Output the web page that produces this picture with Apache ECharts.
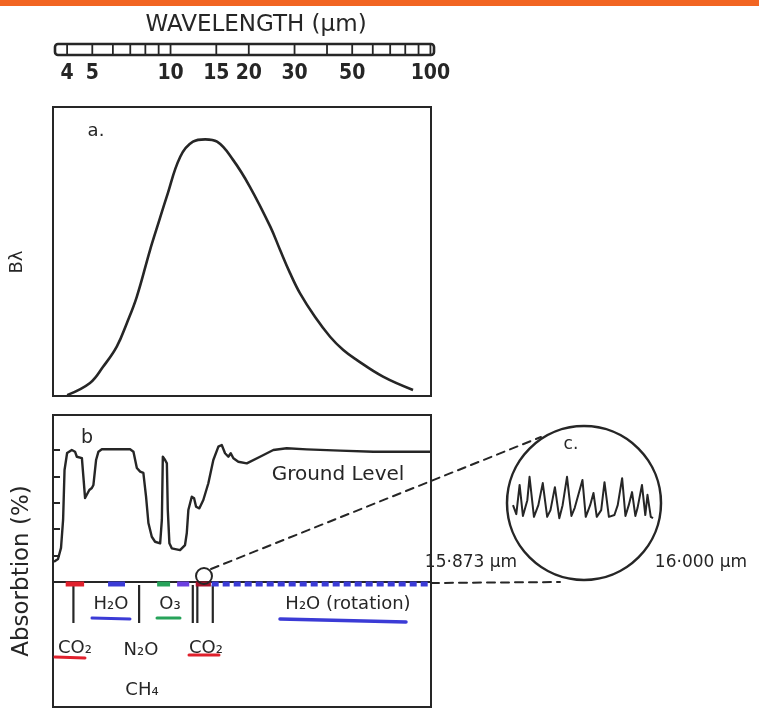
<!DOCTYPE html>
<html><head><meta charset="utf-8">
<script src="https://cdn.jsdelivr.net/npm/echarts@6/dist/echarts.min.js"></script>
<style>html,body{margin:0;padding:0;background:#fff}#c{width:759px;height:710px}</style>
</head><body><div id="c"></div>
<script>
// ---- data ----
const scaleTicks = [4,5,6,7,8,9,10,15,20,30,40,50,60,70,80,90,100];
const scaleLabels = [4,5,10,15,20,30,50,100];

const planckLambda = [4.0,4.9,5.5,6.21,6.79,7.42,8.34,8.98,9.67,10.9,12.2,13.6,15.1,17.4,20.2,24.2,26.4,28.8,31.5,36.0,41.1,46.2,52.0,65.7,85.7];
const planckB      = [0.3,4.5,10.1,17.1,25.2,34.4,50.5,59.8,69.0,82.8,88.0,88.8,88.0,81.7,72.4,58.6,50.5,42.6,35.5,27.3,20.5,15.9,12.5,6.7,2.1];

const absLambda = [3.56,3.69,3.79,3.86,3.91,4.00,4.17,4.29,4.36,4.56,4.62,4.69,4.76,4.87,4.98,5.05,5.17,5.28,5.44,6.99,7.20,7.42,7.64,7.86,8.05,8.22,8.47,8.72,9.12,9.26,9.34,9.53,9.68,9.76,9.90,10.11,10.88,11.37,11.55,11.71,12.07,12.32,12.54,12.91,13.37,13.98,14.61,15.28,15.74,16.21,16.69,17.05,17.45,18.23,19.65,22.10,24.86,27.99,33.42,44.9,60.3,98.1,100.5];
const absPct    = [15.4,17.4,25.8,47.0,84.8,97.7,100,98.7,94.9,93.9,79.8,63.6,62.1,69.7,71.2,73.5,92.4,98.7,100.5,100.5,98.7,86.4,83.6,82.6,64.6,44.7,34.3,30.5,29.3,47.0,94.9,92.4,89.9,54.5,29.3,25.5,24.2,28.0,37.1,54.5,64.6,63.4,57.0,55.8,62.1,74.8,92.4,102.5,103.8,97.5,94.9,97.5,93.7,91.1,89.9,94.9,100,101.3,100.5,99.5,98.7,98.7,98.7];
const absTicks  = [20,40,60,80,100];

const insetLambda = [15.873,15.876,15.879,15.882,15.886,15.888,15.892,15.896,15.900,15.904,15.907,15.911,15.915,15.918,15.922,15.926,15.929,15.936,15.939,15.943,15.946,15.949,15.953,15.956,15.960,15.965,15.968,15.972,15.975,15.978,15.981,15.984,15.986,15.990,15.993,15.995,15.998,16.000];
const insetAbs    = [33,13,78,9,44,96,7,33,82,7,22,73,4,33,96,9,27,89,7,33,60,7,22,84,7,11,33,93,9,33,62,9,27,78,11,56,7,4];

const bandStart = [3.95,5.75,8.88,10.6,12.5,14.4];
const bandEnd   = [4.65,6.68,9.96,11.8,14.3,98];
const bracketLambda = [4.23,7.57,12.18,12.68,14.54];

// ---- styles ----
const INK = '#262626';
const FONT = "'DejaVu Sans', sans-serif";
const NARROW = "'Liberation Sans Narrow','DejaVu Sans Condensed',sans-serif";
const bandColors = ['#e0202c','#3b3bd6','#27a35a','#6b3fe0','#a5122a','#3b3bd6'];
const X0 = 3.53, X1 = 100.5;

const chart = echarts.init(document.getElementById('c'));

const gridBase = {left:53, width:378, containLabel:false};
const xLog = gi => ({type:'log', logBase:10, gridIndex:gi, min:X0, max:X1, show:false});
const hidY = (gi, min, max) => ({type:'value', gridIndex:gi, min, max, show:false});

function txt(text, x, y, size, extra) {
  return Object.assign({type:'text', x, y, z:100,
    style:{text, fontSize:size, fontFamily:FONT, fill:INK, align:'center', verticalAlign:'middle'}}, extra || {});
}
function ln(x1,y1,x2,y2,color,w,dash){
  return {type:'line', z:90, shape:{x1,y1,x2,y2}, style:{stroke:color, lineWidth:w, lineDash:dash||null, lineCap:'round'}};
}

const option = {
  backgroundColor:'#ffffff',
  animation:false,
  grid:[
    Object.assign({top:44, height:11, show:false}, gridBase),
    Object.assign({top:107, height:289, show:true, borderColor:INK, borderWidth:2}, gridBase),
    Object.assign({top:415, height:167, show:true, borderColor:INK, borderWidth:2}, gridBase),
    Object.assign({top:582, height:125, show:true, borderColor:INK, borderWidth:2}, gridBase),
    {left:513, top:475, width:140, height:45, show:false}
  ],
  xAxis:[xLog(0), xLog(1), xLog(2), xLog(3),
    {type:'value', gridIndex:4, min:15.873, max:16.0, show:false}],
  yAxis:[
    hidY(0,0,1),
    hidY(1,0,100),
    {type:'value', gridIndex:2, min:0, max:126.5,
      axisLine:{show:false}, axisLabel:{show:false}, splitLine:{show:false},
      axisTick:{show:true, inside:true, length:7, customValues:absTicks, lineStyle:{color:INK, width:2}}},
    hidY(3,0,125),
    hidY(4,0,100)
  ],
  series:[
    { // scale bar dividers
      type:'custom', xAxisIndex:0, yAxisIndex:0, coordinateSystem:'cartesian2d',
      data: scaleTicks.map(v=>[v,0]),
      renderItem:(params, api)=>{
        const p = api.coord([api.value(0),0]); const cs = params.coordSys;
        return {type:'line', shape:{x1:p[0], y1:cs.y, x2:p[0], y2:cs.y+cs.height}, style:{stroke:INK, lineWidth:1.8}};
      }
    },
    { // scale labels
      type:'custom', xAxisIndex:0, yAxisIndex:0, coordinateSystem:'cartesian2d',
      data: scaleLabels.map(v=>[v,0]),
      renderItem:(params, api)=>{
        const v = api.value(0);
        const p = api.coord([v,0]); const cs = params.coordSys;
        return {type:'text', x:p[0], y:cs.y+cs.height+19,
          style:{text:String(v), align:'center', verticalAlign:'middle', fontSize:21, fontWeight:'bold', fontFamily:NARROW, fill:INK}};
      }
    },
    { type:'line', xAxisIndex:1, yAxisIndex:1, smooth:0.4, showSymbol:false, symbol:'none',
      data: planckLambda.map((l,i)=>[l, planckB[i]]),
      lineStyle:{color:INK, width:2.6} },
    { type:'line', xAxisIndex:2, yAxisIndex:2, smooth:false, showSymbol:false, symbol:'none',
      data: absLambda.map((l,i)=>[l, absPct[i]]),
      lineStyle:{color:INK, width:2.4, join:'round'} },
    { // band marks on the baseline
      type:'custom', xAxisIndex:3, yAxisIndex:3, coordinateSystem:'cartesian2d', z:5,
      data: bandStart.map((s,i)=>[s, 0, bandEnd[i], i]),
      renderItem:(params, api)=>{
        const i = api.value(3);
        const p1 = api.coord([api.value(0),0]); const p2 = api.coord([api.value(2),0]);
        const y = params.coordSys.y + 2;
        return {type:'line', shape:{x1:p1[0], y1:y, x2:p2[0], y2:y},
          style:{stroke:bandColors[i], lineWidth:5, lineDash: i===5?[7,4]:null}};
      }
    },
    { // bracket lines below the baseline
      type:'custom', xAxisIndex:3, yAxisIndex:3, coordinateSystem:'cartesian2d',
      data: bracketLambda.map(v=>[v,0]),
      renderItem:(params, api)=>{
        const p = api.coord([api.value(0),0]); const y = params.coordSys.y;
        return {type:'line', shape:{x1:p[0], y1:y+3, x2:p[0], y2:y+41}, style:{stroke:INK, lineWidth:2.2}};
      }
    },
    { type:'line', xAxisIndex:4, yAxisIndex:4, smooth:false, showSymbol:false, symbol:'none',
      data: insetLambda.map((l,i)=>[l, insetAbs[i]]),
      lineStyle:{color:INK, width:2, join:'round'} }
  ],
  graphic:[
    {type:'rect', z:100, shape:{x:0,y:0,width:759,height:6}, style:{fill:'#F26522'}},
    txt('WAVELENGTH (µm)', 256, 25, 23),
    {type:'rect', z:95, shape:{x:55,y:44,width:379,height:11,r:3}, style:{fill:'none', stroke:INK, lineWidth:2.6}},
    txt('a.', 96, 131, 18),
    txt('b', 87, 438, 19),
    txt('c.', 571, 445, 17),
    txt('Bλ', 17, 262, 18, {rotation:Math.PI/2}),
    txt('Absorbtion (%)', 22, 571, 23, {rotation:Math.PI/2}),
    txt('Ground Level', 338, 475, 20),
    txt('H₂O', 111, 604, 18),
    txt('O₃', 170, 604, 18),
    txt('H₂O (rotation)', 348, 604, 18),
    txt('CO₂', 75, 648, 18),
    txt('N₂O', 141, 650, 18),
    txt('CO₂', 206, 648, 18),
    txt('CH₄', 142, 690, 18),
    ln(92,618,130,619,'#3b3bd6',3),
    ln(157,618,180,618,'#27a35a',3),
    ln(280,619,406,622,'#3b3bd6',3.5),
    ln(55,657,85,658,'#e0202c',3),
    ln(189,655,219,655,'#e0202c',3),
    {type:'circle', z:96, shape:{cx:204, cy:576, r:8}, style:{fill:'none', stroke:INK, lineWidth:2}},
    {type:'circle', z:96, shape:{cx:584, cy:503, r:77}, style:{fill:'none', stroke:INK, lineWidth:2.5}},
    ln(211,569,541,437,INK,2,[8,6]),
    ln(431,583,560,582,INK,2,[8,6]),
    txt('15·873 µm', 471, 563, 17),
    txt('16·000 µm', 701, 563, 17)
  ]
};
chart.setOption(option);
</script></body></html>
